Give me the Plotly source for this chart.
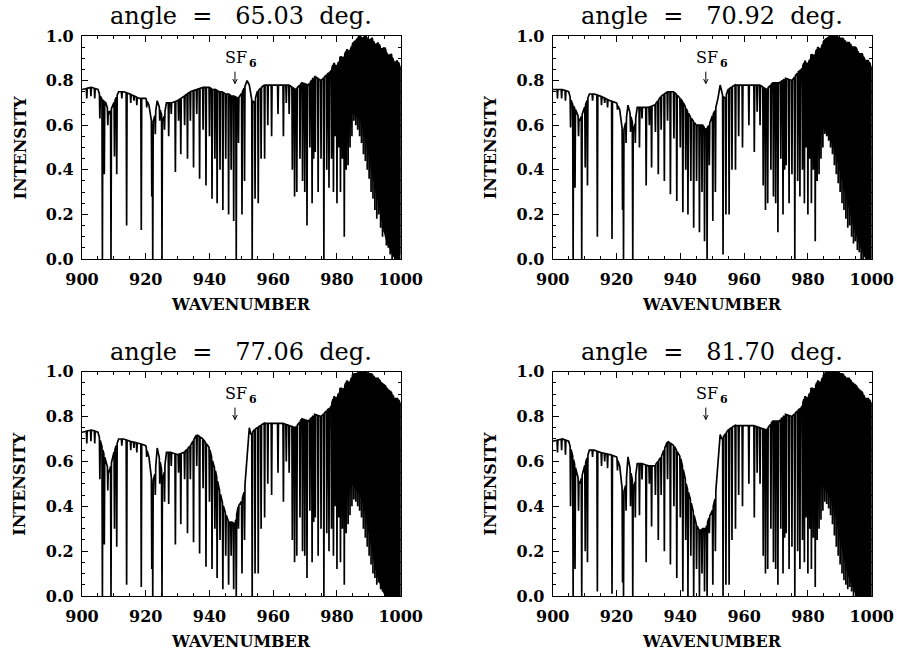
import numpy as np
import plotly.graph_objects as go

# ---------------- data ----------------
angles = ["65.03", "70.92", "77.06", "81.70"]

# smooth continuum (upper envelope) below the dense band
cont_x = [900, 903, 905, 906, 907.5, 908.5, 910, 911.5, 913, 915, 918, 920, 921, 922, 923,
          923.6, 924.5, 925.5, 926.5, 928, 930, 932, 934, 936, 938, 940, 941, 942, 943, 944,
          945, 946, 947, 948, 949, 950, 951, 951.8, 952.5, 953, 954, 955, 957, 960, 963, 965,
          967, 969, 971, 973, 975, 977]
cont_1 = [0.76, 0.77, 0.76, 0.72, 0.70, 0.65, 0.70, 0.75, 0.75, 0.74, 0.72, 0.72, 0.69, 0.60, 0.65,
          0.71, 0.67, 0.62, 0.70, 0.70, 0.71, 0.73, 0.75, 0.76, 0.77, 0.77, 0.76, 0.76, 0.75, 0.75,
          0.74, 0.74, 0.73, 0.73, 0.72, 0.74, 0.77, 0.80, 0.78, 0.72, 0.70, 0.75, 0.78, 0.78, 0.78, 0.78,
          0.76, 0.79, 0.78, 0.82, 0.80, 0.83]
cont_2 = [0.76, 0.76, 0.75, 0.70, 0.66, 0.62, 0.68, 0.74, 0.74, 0.73, 0.71, 0.70, 0.67, 0.56, 0.62,
          0.69, 0.64, 0.58, 0.68, 0.68, 0.68, 0.69, 0.73, 0.75, 0.75, 0.72, 0.70, 0.67, 0.64, 0.62,
          0.60, 0.60, 0.60, 0.58, 0.60, 0.64, 0.67, 0.72, 0.78, 0.74, 0.72, 0.76, 0.78, 0.78, 0.78, 0.78,
          0.76, 0.79, 0.79, 0.81, 0.80, 0.84]
cont_3 = [0.73, 0.74, 0.73, 0.68, 0.60, 0.55, 0.64, 0.70, 0.70, 0.69, 0.68, 0.67, 0.62, 0.50, 0.55,
          0.66, 0.60, 0.52, 0.64, 0.64, 0.63, 0.64, 0.67, 0.72, 0.70, 0.66, 0.60, 0.55, 0.48, 0.42,
          0.37, 0.33, 0.33, 0.32, 0.40, 0.42, 0.47, 0.62, 0.75, 0.72, 0.74, 0.75, 0.77, 0.77, 0.77, 0.76,
          0.75, 0.79, 0.78, 0.81, 0.80, 0.83]
cont_4 = [0.69, 0.70, 0.69, 0.64, 0.55, 0.50, 0.58, 0.65, 0.65, 0.64, 0.63, 0.62, 0.58, 0.45, 0.50,
          0.62, 0.55, 0.48, 0.59, 0.59, 0.58, 0.58, 0.62, 0.69, 0.67, 0.62, 0.56, 0.49, 0.44, 0.38,
          0.32, 0.29, 0.30, 0.30, 0.35, 0.38, 0.44, 0.60, 0.72, 0.70, 0.72, 0.74, 0.76, 0.76, 0.76, 0.75,
          0.74, 0.78, 0.78, 0.81, 0.80, 0.83]

# dense band (978-1000): upper and lower edges of the solid black region
dense_x = [978, 979, 980, 981, 982, 983, 984, 985, 986, 987, 988, 989, 990, 991, 992, 993,
           994, 995, 996, 997, 998, 999, 1000]
upper_1 = [0.84, 0.88, 0.86, 0.91, 0.90, 0.94, 0.93, 0.97, 0.98, 1.00, 0.99, 1.00, 0.98, 0.99,
           0.96, 0.97, 0.94, 0.95, 0.91, 0.92, 0.88, 0.89, 0.86]
lower_1 = [0.80, 0.78, 0.75, 0.72, 0.70, 0.68, 0.66, 0.65, 0.64, 0.63, 0.60, 0.52, 0.45, 0.38,
           0.31, 0.24, 0.17, 0.10, 0.06, 0.03, 0.00, 0.00, 0.00]
upper_2 = [0.85, 0.89, 0.87, 0.92, 0.91, 0.95, 0.94, 0.98, 0.99, 1.00, 1.00, 1.00, 0.99, 0.99,
           0.97, 0.97, 0.95, 0.95, 0.92, 0.92, 0.89, 0.89, 0.86]
lower_2 = [0.78, 0.75, 0.72, 0.69, 0.66, 0.63, 0.60, 0.58, 0.56, 0.53, 0.50, 0.45, 0.40, 0.34,
           0.28, 0.22, 0.16, 0.11, 0.07, 0.03, 0.00, 0.00, 0.00]
upper_3 = [0.84, 0.89, 0.88, 0.93, 0.92, 0.96, 0.95, 0.99, 0.99, 1.00, 1.00, 1.00, 0.99, 0.99,
           0.97, 0.97, 0.95, 0.94, 0.92, 0.91, 0.88, 0.88, 0.86]
lower_3 = [0.75, 0.70, 0.65, 0.61, 0.58, 0.55, 0.52, 0.49, 0.47, 0.45, 0.42, 0.35, 0.28, 0.20,
           0.12, 0.07, 0.03, 0.00, 0.00, 0.00, 0.00, 0.00, 0.00]
upper_4 = [0.84, 0.89, 0.88, 0.93, 0.92, 0.96, 0.95, 0.99, 1.00, 1.00, 1.00, 1.00, 0.99, 0.99,
           0.97, 0.97, 0.95, 0.94, 0.92, 0.91, 0.88, 0.88, 0.86]
lower_4 = [0.72, 0.67, 0.62, 0.58, 0.55, 0.52, 0.50, 0.48, 0.46, 0.43, 0.40, 0.33, 0.25, 0.18,
           0.12, 0.07, 0.04, 0.00, 0.00, 0.00, 0.00, 0.00, 0.00]

# absorption line centres and the minimum intensity of each line, per panel
line_pos = [901.5, 902.8, 904.0, 905.6, 906.4, 907.0, 908.1, 909.1, 910.2, 910.9,
            912.5, 914.0, 915.3, 916.3, 917.2, 918.6, 920.3, 921.9, 922.2, 923.0,
            924.4, 925.1, 925.9, 927.2, 928.0, 929.3, 930.3, 931.0, 932.2, 933.1,
            934.0, 935.0, 936.0, 936.9, 938.0, 938.9, 940.0, 940.8, 941.7, 942.4,
            943.3, 944.2, 945.1, 946.0, 946.8, 947.6, 948.4, 949.1, 950.2, 951.0,
            953.4, 954.3, 955.3, 956.2, 957.3, 958.3, 959.5, 961.5, 963.2, 964.1,
            965.0, 966.0, 966.7, 967.4, 968.4, 969.2, 969.9, 970.6, 971.5, 972.2,
            972.7, 973.2, 974.1, 975.0, 975.9, 976.8, 977.5,
            978.3, 978.9, 979.4, 980.0, 980.6, 981.1, 981.7, 982.3, 982.9, 983.5,
            984.1, 984.7, 985.3, 985.9, 986.5, 987.1, 987.7, 988.3, 988.9, 989.5,
            990.1, 990.7, 991.3, 991.9, 992.5, 993.1, 993.7, 994.3, 994.9, 995.5,
            996.1, 996.7, 997.3, 997.9, 998.5, 999.1, 999.7]
depth_1 = [0.72, 0.73, 0.72, 0.63, 0.00, 0.38, 0.60, 0.00, 0.46, 0.38,
           0.72, 0.15, 0.70, 0.71, 0.69, 0.13, 0.68, 0.28, 0.00, 0.56,
           0.62, 0.00, 0.58, 0.55, 0.65, 0.39, 0.62, 0.47, 0.60, 0.45,
           0.62, 0.41, 0.65, 0.36, 0.58, 0.33, 0.55, 0.27, 0.45, 0.25,
           0.40, 0.22, 0.45, 0.20, 0.40, 0.17, 0.00, 0.52, 0.20, 0.35,
           0.00, 0.27, 0.25, 0.45, 0.45, 0.60, 0.55, 0.65, 0.55, 0.70,
           0.65, 0.40, 0.28, 0.30, 0.45, 0.35, 0.30, 0.15, 0.50, 0.25,
           0.45, 0.48, 0.30, 0.45, 0.00, 0.40, 0.32,
           0.45, 0.30, 0.55, 0.25, 0.50, 0.30, 0.45, 0.10, 0.40, 0.42,
           0.50, 0.55, 0.62, 0.60, 0.58, 0.55, 0.52, 0.47, 0.44, 0.40,
           0.36, 0.30, 0.27, 0.22, 0.18, 0.20, 0.14, 0.10, 0.12, 0.06,
           0.05, 0.02, 0.00, 0.03, 0.00, 0.00, 0.02]
depth_2 = [0.72, 0.72, 0.71, 0.59, 0.00, 0.32, 0.55, 0.00, 0.41, 0.33,
           0.71, 0.10, 0.69, 0.70, 0.68, 0.09, 0.67, 0.22, 0.00, 0.52,
           0.57, 0.00, 0.52, 0.50, 0.63, 0.33, 0.60, 0.41, 0.57, 0.38,
           0.58, 0.35, 0.62, 0.29, 0.54, 0.26, 0.50, 0.21, 0.40, 0.20,
           0.35, 0.14, 0.35, 0.12, 0.30, 0.08, 0.00, 0.42, 0.17, 0.30,
           0.02, 0.20, 0.20, 0.40, 0.40, 0.55, 0.50, 0.60, 0.48, 0.66,
           0.60, 0.33, 0.22, 0.25, 0.40, 0.28, 0.25, 0.12, 0.45, 0.20,
           0.40, 0.42, 0.25, 0.38, 0.00, 0.35, 0.28,
           0.40, 0.25, 0.50, 0.20, 0.45, 0.25, 0.40, 0.08, 0.35, 0.38,
           0.45, 0.50, 0.56, 0.55, 0.53, 0.50, 0.47, 0.42, 0.38, 0.34,
           0.30, 0.25, 0.22, 0.18, 0.14, 0.15, 0.10, 0.07, 0.08, 0.04,
           0.03, 0.00, 0.00, 0.02, 0.00, 0.00, 0.00]
depth_3 = [0.68, 0.69, 0.68, 0.52, 0.00, 0.23, 0.47, 0.00, 0.30, 0.22,
           0.67, 0.05, 0.65, 0.66, 0.64, 0.04, 0.62, 0.12, 0.00, 0.45,
           0.50, 0.00, 0.42, 0.41, 0.58, 0.23, 0.55, 0.32, 0.52, 0.28,
           0.52, 0.24, 0.58, 0.19, 0.48, 0.13, 0.42, 0.12, 0.30, 0.08,
           0.25, 0.03, 0.18, 0.05, 0.18, 0.03, 0.00, 0.30, 0.10, 0.25,
           0.00, 0.10, 0.10, 0.30, 0.35, 0.50, 0.45, 0.55, 0.42, 0.60,
           0.55, 0.25, 0.15, 0.18, 0.35, 0.20, 0.18, 0.08, 0.38, 0.15,
           0.33, 0.35, 0.18, 0.30, 0.00, 0.28, 0.20,
           0.30, 0.18, 0.40, 0.12, 0.35, 0.15, 0.30, 0.05, 0.28, 0.32,
           0.36, 0.40, 0.43, 0.42, 0.40, 0.38, 0.35, 0.30, 0.26, 0.22,
           0.18, 0.14, 0.10, 0.08, 0.05, 0.06, 0.03, 0.02, 0.03, 0.00,
           0.00, 0.00, 0.00, 0.00, 0.00, 0.00, 0.00]
depth_4 = [0.64, 0.65, 0.63, 0.40, 0.00, 0.12, 0.38, 0.00, 0.20, 0.15,
           0.62, 0.02, 0.58, 0.60, 0.57, 0.01, 0.56, 0.06, 0.00, 0.38,
           0.40, 0.00, 0.35, 0.36, 0.52, 0.15, 0.50, 0.31, 0.45, 0.25,
           0.45, 0.20, 0.52, 0.14, 0.40, 0.08, 0.35, 0.02, 0.25, 0.00,
           0.18, 0.00, 0.12, 0.00, 0.10, 0.02, 0.00, 0.28, 0.05, 0.20,
           0.00, 0.05, 0.05, 0.25, 0.30, 0.45, 0.40, 0.50, 0.35, 0.55,
           0.50, 0.18, 0.10, 0.12, 0.30, 0.15, 0.12, 0.05, 0.30, 0.10,
           0.26, 0.28, 0.12, 0.22, 0.00, 0.20, 0.12,
           0.25, 0.15, 0.35, 0.10, 0.30, 0.12, 0.26, 0.04, 0.25, 0.30,
           0.34, 0.38, 0.42, 0.41, 0.39, 0.36, 0.32, 0.27, 0.22, 0.18,
           0.14, 0.10, 0.07, 0.05, 0.03, 0.04, 0.02, 0.00, 0.02, 0.00,
           0.00, 0.00, 0.00, 0.00, 0.00, 0.00, 0.00]

sf6_pos = 948.0

# ---------------- figure ----------------
W, H = 897, 652
panels = [
    dict(c=cont_1, d=depth_1, u=upper_1, l=lower_1, px=(82, 400.7), py=(36, 259)),
    dict(c=cont_2, d=depth_2, u=upper_2, l=lower_2, px=(552.7, 871.7), py=(36, 259)),
    dict(c=cont_3, d=depth_3, u=upper_3, l=lower_3, px=(82, 400.7), py=(371.7, 596)),
    dict(c=cont_4, d=depth_4, u=upper_4, l=lower_4, px=(552.7, 871.7), py=(371.7, 596)),
]
HALF = 0.14  # half width of a drawn line (style)


def spectrum(cont_y, depths, upper):
    cx = np.array(cont_x + dense_x, dtype=float)
    cy = np.array(cont_y + upper, dtype=float)
    pts = [(x, y) for x, y in zip(cx, cy)
           if not any(abs(x - p) <= HALF for p in line_pos)]
    for p, d in zip(line_pos, depths):
        pts.append((p - HALF, float(np.interp(p - HALF, cx, cy))))
        pts.append((p, d))
        pts.append((p + HALF, float(np.interp(p + HALF, cx, cy))))
    pts.sort()
    return [p[0] for p in pts], [p[1] for p in pts]


fig = go.Figure()
SERIF = "DejaVu Serif"
ann = []
shapes = []
for i, pnl in enumerate(panels):
    k = "" if i == 0 else str(i + 1)
    xa, ya = "x" + k, "y" + k
    fig.add_trace(go.Scatter(x=dense_x + dense_x[::-1], y=pnl["u"] + pnl["l"][::-1],
                             fill="toself", fillcolor="black", line=dict(width=0),
                             mode="lines", xaxis=xa, yaxis=ya, hoverinfo="skip",
                             showlegend=False))
    sx, sy = spectrum(pnl["c"], pnl["d"], pnl["u"])
    fig.add_trace(go.Scatter(x=sx, y=sy, mode="lines", line=dict(color="black", width=1.7),
                             xaxis=xa, yaxis=ya, showlegend=False))
    x0, x1 = pnl["px"]
    y0, y1 = pnl["py"]
    axis_common = dict(showline=True, linecolor="black", linewidth=1.3, mirror="ticks",
                       ticks="inside", tickcolor="black", tickwidth=1.2, ticklen=6,
                       showgrid=False, zeroline=False, automargin=False,
                       tickfont=dict(family=SERIF, size=16, color="black", weight="bold"))
    fig.layout["xaxis" + k] = dict(domain=[x0 / W, x1 / W], range=[900, 1000], dtick=20,
                                   tick0=900, anchor=ya,
                                   minor=dict(dtick=5, ticks="inside", ticklen=3,
                                              tickcolor="black", tickwidth=1),
                                   ticklabelstandoff=6, **axis_common)
    fig.layout["yaxis" + k] = dict(domain=[1 - y1 / H, 1 - y0 / H], range=[0, 1], dtick=0.2,
                                   tick0=0, tickformat=".1f", anchor=xa,
                                   minor=dict(dtick=0.05, ticks="inside", ticklen=3,
                                              tickcolor="black", tickwidth=1),
                                   ticklabelstandoff=4, **axis_common)
    cxp = (x0 + x1) / 2
    ann.append(dict(text=f"angle  =   {angles[i]}  deg.", x=cxp / W, y=1 - (y0 - 20) / H,
                    xref="paper", yref="paper", showarrow=False, xanchor="center",
                    yanchor="middle", font=dict(family=SERIF, size=24, color="black")))
    ann.append(dict(text="WAVENUMBER", x=cxp / W, y=1 - (y1 + 45) / H,
                    xref="paper", yref="paper", showarrow=False, xanchor="center",
                    yanchor="middle",
                    font=dict(family=SERIF, size=16, color="black", weight="bold")))
    ann.append(dict(text="INTENSITY", x=(x0 - 62) / W, y=1 - ((y0 + y1) / 2) / H,
                    xref="paper", yref="paper", showarrow=False, xanchor="center",
                    yanchor="middle", textangle=-90,
                    font=dict(family=SERIF, size=16, color="black", weight="bold")))
    ann.append(dict(text="SF", x=sf6_pos + 4.0, y=0.905, xref=xa, yref=ya,
                    showarrow=False, xanchor="right", yanchor="middle", borderpad=0,
                    font=dict(family=SERIF, size=16, color="black")))
    ann.append(dict(text="6", x=sf6_pos + 4.0, y=0.875, xref=xa, yref=ya,
                    showarrow=False, xanchor="left", yanchor="middle", borderpad=0,
                    font=dict(family=SERIF, size=11, color="black", weight="bold")))
    # the small arrow pointing at the SF6 feature
    shapes.append(dict(type="line", xref=xa, yref=ya, x0=sf6_pos, x1=sf6_pos,
                       y0=0.787, y1=0.84, line=dict(color="black", width=1)))
    shapes.append(dict(type="path", xref=xa, yref=ya,
                       path=f"M {sf6_pos - 0.7},0.807 L {sf6_pos},0.787 L {sf6_pos + 0.7},0.807",
                       line=dict(color="black", width=1)))

fig.update_layout(width=W, height=H, autosize=False,
                  margin=dict(l=0, r=0, t=0, b=0),
                  paper_bgcolor="white", plot_bgcolor="white",
                  annotations=ann, shapes=shapes)
fig.write_html("out.html", config={"displayModeBar": False},
               post_script="document.body.style.margin='0';document.body.style.overflow='hidden';")
